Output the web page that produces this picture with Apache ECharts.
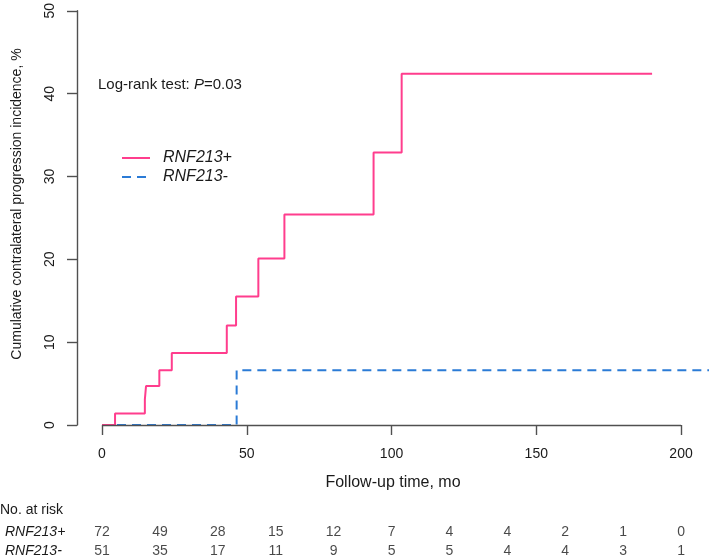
<!DOCTYPE html>
<html>
<head>
<meta charset="utf-8">
<script src="https://cdn.jsdelivr.net/npm/echarts@6/dist/echarts.min.js"></script>
<style>
html,body{margin:0;padding:0;background:#fff;}
#chart{width:709px;height:560px;}
</style>
</head>
<body>
<div id="chart"></div>
<script>
// ---- data ----
const groupNames = ['RNF213+', 'RNF213-'];
const plusTime = [0, 4.5, 14.8, 15.2, 19.8, 24.1, 43.1, 46.3, 54.0, 63.0, 93.8, 103.5, 190];
const plusInc  = [0, 1.4, 3.1, 4.7, 6.6, 8.7, 12.0, 15.5, 20.1, 25.4, 32.9, 42.4, 42.4];
const minusTime = [0, 46.5, 212];
const minusInc  = [0, 6.6, 6.6];
const riskTimes = [0, 20, 40, 60, 80, 100, 120, 140, 160, 180, 200];
const riskPlus  = [72, 49, 28, 15, 12, 7, 4, 4, 2, 1, 0];
const riskMinus = [51, 35, 17, 11, 9, 5, 5, 4, 4, 3, 1];
const xTicks = [0, 50, 100, 150, 200];
const yTicks = [0, 10, 20, 30, 40, 50];

const X_MIN = -8.64, X_MAX = 209.66;
const PINK = '#ff3d8d', BLUE = '#2b7bd6', AXIS = '#505050', TEXT = '#1a1a1a';
const FONT = "'Liberation Sans', Arial, sans-serif";

const zip = (a, b) => a.map((v, i) => [v, b[i]]);
const riskData = [];
riskTimes.forEach((t, i) => {
  riskData.push([t, groupNames[0], riskPlus[i]]);
  riskData.push([t, groupNames[1], riskMinus[i]]);
});

const chart = echarts.init(document.getElementById('chart'), null, {renderer: 'canvas'});
chart.setOption({
  animation: false,
  backgroundColor: '#fff',
  textStyle: {fontFamily: FONT, color: TEXT},
  grid: [
    {left: 77, right: 0, top: 10, bottom: 135},
    {left: 77, right: 0, top: 523, height: 37}
  ],
  xAxis: [
    {
      type: 'value', gridIndex: 0, min: X_MIN, max: X_MAX,
      axisLine: {show: false, onZero: false},
      axisTick: {show: true, customValues: xTicks, length: 10, lineStyle: {color: AXIS, width: 1.4}},
      axisLabel: {customValues: xTicks, margin: 22, fontSize: 14, color: TEXT, fontFamily: FONT},
      splitLine: {show: false},
      name: 'Follow-up time, mo', nameLocation: 'middle', nameGap: 50,
      nameTextStyle: {fontSize: 16, color: TEXT, fontFamily: FONT}
    },
    {type: 'value', gridIndex: 1, min: X_MIN, max: X_MAX, show: false}
  ],
  yAxis: [
    {
      type: 'value', gridIndex: 0, min: yTicks[0], max: yTicks[yTicks.length - 1], interval: 10,
      axisLine: {show: true, onZero: false, lineStyle: {color: AXIS, width: 1.4}},
      axisTick: {show: true, length: 10, lineStyle: {color: AXIS, width: 1.4}},
      axisLabel: {rotate: 90, margin: 20, fontSize: 14, color: TEXT, fontFamily: FONT},
      splitLine: {show: false}
    },
    {
      type: 'category', gridIndex: 1, data: groupNames, inverse: true,
      axisLine: {show: false}, axisTick: {show: false},
      axisLabel: {align: 'left', margin: 72, fontSize: 14, fontStyle: 'italic', color: TEXT, fontFamily: FONT}
    }
  ],
  legend: {
    left: 116, top: 144, orient: 'vertical',
    itemWidth: 28, itemHeight: 18, itemGap: 1,
    data: groupNames,
    itemStyle: {color: 'rgba(0,0,0,0)', borderWidth: 0, opacity: 0},
    textStyle: {fontSize: 16, fontStyle: 'italic', color: TEXT, fontFamily: FONT, padding: [0, 0, 0, 8], lineHeight: 18}
  },
  series: [
    {
      name: groupNames[1], type: 'line', step: 'end', symbol: 'none',
      xAxisIndex: 0, yAxisIndex: 0, z: 2,
      data: zip(minusTime, minusInc),
      lineStyle: {color: BLUE, width: 2, type: [9, 6]},
      itemStyle: {color: BLUE},
      markLine: {
        silent: true, symbol: ['none', 'none'], label: {show: false},
        lineStyle: {color: AXIS, width: 1.4, type: 'solid'},
        data: [[{coord: [xTicks[0], 0]}, {coord: [xTicks[xTicks.length - 1], 0]}]]
      }
    },
    {
      name: groupNames[0], type: 'line', step: 'end', symbol: 'none',
      xAxisIndex: 0, yAxisIndex: 0, z: 3,
      data: zip(plusTime, plusInc),
      lineStyle: {color: PINK, width: 2},
      itemStyle: {color: PINK}
    },
    {
      type: 'scatter', xAxisIndex: 1, yAxisIndex: 1, symbolSize: 0,
      data: riskData,
      label: {show: true, position: 'inside', formatter: p => String(p.value[2]), fontSize: 14, color: TEXT, fontFamily: FONT},
      silent: true
    }
  ],
  graphic: [
    {
      type: 'text', x: 17, y: 204, rotation: Math.PI / 2,
      style: {text: 'Cumulative contralateral progression incidence, %', font: '14px ' + FONT, fill: TEXT, align: 'center', verticalAlign: 'middle'}
    },
    {
      type: 'text', x: 98, y: 85,
      style: {
        text: 'Log-rank test: {it|P}=0.03', font: '15px ' + FONT, fill: TEXT, verticalAlign: 'middle',
        rich: {it: {fontStyle: 'italic', fontSize: 15, fontFamily: FONT, fill: TEXT}}
      }
    },
    {
      type: 'text', x: 0, y: 510,
      style: {text: 'No. at risk', font: '14px ' + FONT, fill: TEXT, verticalAlign: 'middle'}
    }
  ]
});
</script>
</body>
</html>
